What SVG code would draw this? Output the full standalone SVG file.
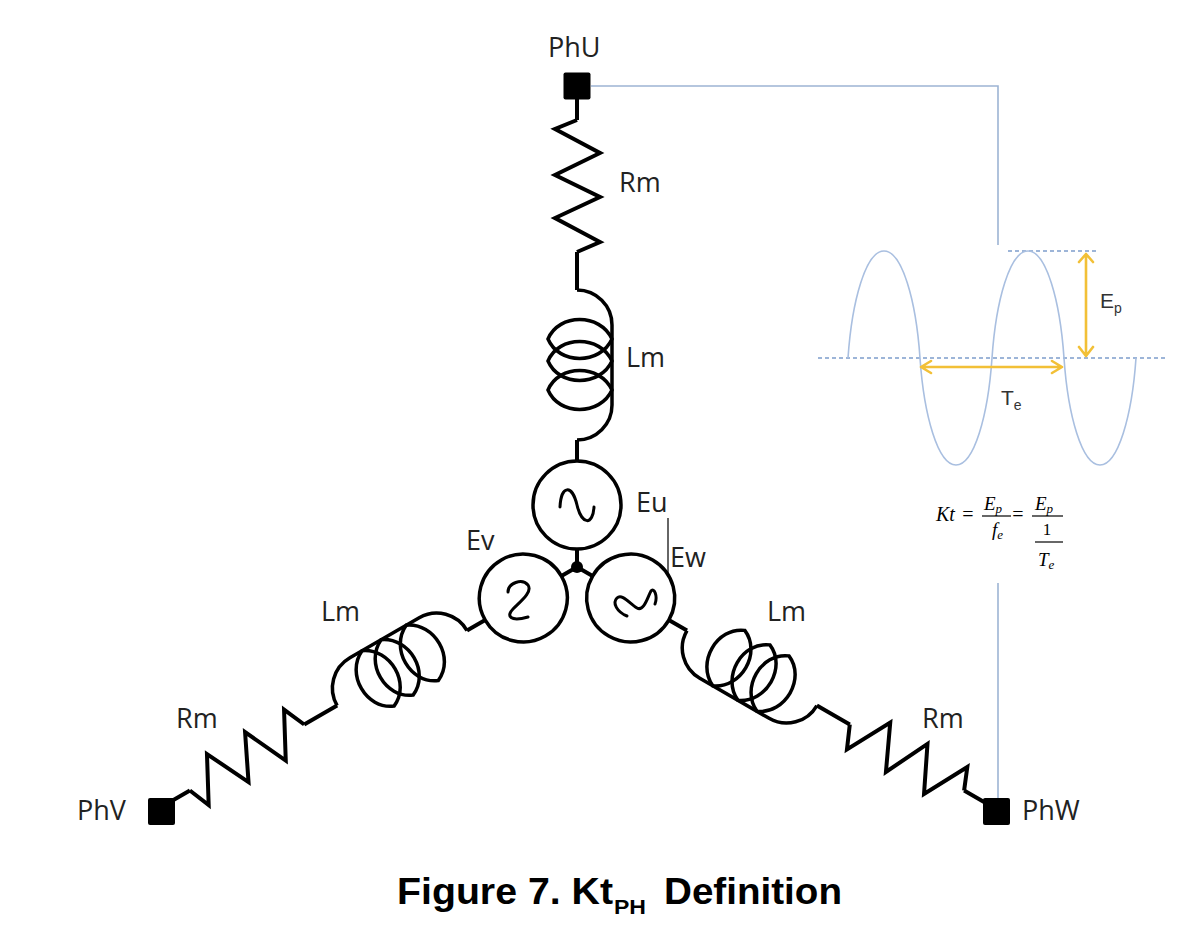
<svg xmlns="http://www.w3.org/2000/svg" xmlns:xlink="http://www.w3.org/1999/xlink" width="1200" height="938" viewBox="0 0 1200 938">
<style>
.w{fill:none;stroke:#000;stroke-width:4;stroke-linejoin:miter;stroke-linecap:butt}
.c{fill:none;stroke:#000;stroke-width:3.5}
.sym{fill:none;stroke:#000;stroke-width:3;stroke-linecap:round;stroke-linejoin:round}
.lbl{font-family:"Open Sans","Liberation Sans",sans-serif;font-size:27px;fill:#222}
.blue{fill:none;stroke:#9db4d4;stroke-width:1.6}
.dash{fill:none;stroke:#7d9dcc;stroke-width:1.3;stroke-dasharray:4 3}
.sine{fill:none;stroke:#a9bfe0;stroke-width:1.6}
.yel{fill:none;stroke:#f2c037;stroke-width:2.6;stroke-linecap:round;stroke-linejoin:round}
.wl{font-family:"Liberation Sans",Arial,sans-serif;fill:#333}
.m{font-family:"Liberation Serif","Times New Roman",serif;font-style:italic;fill:#000}
.mu{font-family:"Liberation Serif","Times New Roman",serif;fill:#000}
.title{font-family:"Liberation Sans",Arial,sans-serif;font-weight:bold;fill:#000}
.term{fill:#000}
</style>
<defs>
<path id="res" class="w" d="M0,-447 L-22,-438 L23,-414 L-22,-392 L23,-370 L-22,-349 L23,-325 L0,-315"/>
<g id="ind" class="c">
<path d="M0,-277 A35,35 0 0 1 35,-242 L35,-162 A35,35 0 0 1 0,-127"/>
<path d="M-29,-228 C-18,-254 23,-254 35,-228 C23,-202 -18,-202 -29,-228 Z"/>
<path d="M-29,-206 C-18,-232 23,-232 35,-206 C23,-180 -18,-180 -29,-206 Z"/>
<path d="M-29,-177 C-18,-203 23,-203 35,-177 C23,-151 -18,-151 -29,-177 Z"/>
</g>
<circle id="src" class="c" cx="0" cy="-62" r="44"/>
<path id="legwires" class="w" d="M0,-472 L0,-447 M0,-315 L0,-277 M0,-127 L0,-106 M0,-18 L0,0"/>
</defs>
<rect x="0" y="0" width="1200" height="938" fill="#fff"/>

<g id="connectors">
<use xlink:href="#legwires" transform="translate(577,567)"/>
<use xlink:href="#legwires" transform="translate(577,567) rotate(-120)"/>
<use xlink:href="#legwires" transform="translate(577,567) rotate(120)"/>
<path class="blue" d="M591,86 L998,86 L998,245"/>
<path class="blue" d="M998,583 L998,798"/>
<path fill="none" stroke="#333" stroke-width="1.5" d="M668,518 L668,575"/>
</g>

<g id="term-phu"><rect class="term" x="563.5" y="72.5" width="27" height="27" rx="2"/><text class="lbl" x="548" y="57">PhU</text></g>
<g id="term-phv"><rect class="term" x="148" y="798" width="27" height="27" rx="2"/><text class="lbl" x="77" y="820">PhV</text></g>
<g id="term-phw"><rect class="term" x="983" y="798" width="27" height="27" rx="2"/><text class="lbl" x="1022" y="820">PhW</text></g>

<g id="rm-u"><use xlink:href="#res" transform="translate(577,567)"/><text class="lbl" x="619" y="192">Rm</text></g>
<g id="rm-v"><use xlink:href="#res" transform="translate(577,567) rotate(-120)"/><text class="lbl" x="176" y="728">Rm</text></g>
<g id="rm-w"><use xlink:href="#res" transform="translate(577,567) rotate(120)"/><text class="lbl" x="922" y="728">Rm</text></g>

<g id="lm-u"><use xlink:href="#ind" transform="translate(577,567)"/><text class="lbl" x="626" y="367">Lm</text></g>
<g id="lm-v"><use xlink:href="#ind" transform="translate(577,567) rotate(-120)"/><text class="lbl" x="321" y="621">Lm</text></g>
<g id="lm-w"><use xlink:href="#ind" transform="translate(577,567) rotate(120)"/><text class="lbl" x="767" y="621">Lm</text></g>

<g id="src-eu"><use xlink:href="#src" transform="translate(577,567)"/>
<path class="sym" d="M560,507 C561,485 572,484 577,505 C582,526 593,525 594,507"/>
<text class="lbl" x="636" y="512">Eu</text></g>
<g id="src-ev"><use xlink:href="#src" transform="translate(577,567) rotate(-120)"/>
<path class="sym" d="M508,592 C508,583 522,578 528,585 C533,592 520,602 513,609 C506,616 510,622 528,617"/>
<text class="lbl" x="466" y="550">Ev</text></g>
<g id="src-ew"><use xlink:href="#src" transform="translate(577,567) rotate(120)"/>
<path class="sym" d="M627,616 C617,612 612,603 617,598 C622,593 630,604 637,608 C644,612 648,596 651,591 C654,587 658,596 655,604"/>
<text class="lbl" x="670" y="567">Ew</text></g>

<g id="neutral"><circle cx="577" cy="567" r="6" fill="#000"/></g>

<g id="waveform">
<path class="dash" d="M818,358 L1165,358"/>
<path class="dash" d="M1008,251 L1098,251"/>
<path class="sine" d="M848,358 C852,300 866,251 884,251 C902,251 916,300 920,358 C924,416 938,465 956,465 C974,465 988,416 992,358 C996,300 1010,251 1028,251 C1046,251 1060,300 1064,358 C1068,416 1082,465 1100,465 C1118,465 1132,416 1136,358"/>
<path class="yel" d="M1086,254 L1086,356 M1079,262 L1086,254 L1093,262 M1079,347 L1086,356 L1093,347"/>
<path class="yel" d="M921,367 L1062,367 M931,361 L921,367 L931,373 M1052,361 L1062,367 L1052,373"/>
<text class="wl" x="1100" y="308" font-size="21">E<tspan font-size="14" dy="5">p</tspan></text>
<text class="wl" x="1001" y="405" font-size="21">T<tspan font-size="14" dy="5">e</tspan></text>
</g>

<g id="formula">
<text class="m" x="936" y="521" font-size="20">Kt</text>
<text class="mu" x="968" y="521" font-size="20" text-anchor="middle">=</text>
<text class="m" x="984" y="510" font-size="19">E<tspan font-size="13" dy="3">p</tspan></text>
<path stroke="#000" stroke-width="1.2" d="M982,516 L1011,516"/>
<text class="m" x="992" y="536" font-size="19">f<tspan font-size="13" dy="3">e</tspan></text>
<text class="mu" x="1018" y="521" font-size="20" text-anchor="middle">=</text>
<text class="m" x="1035" y="510" font-size="19">E<tspan font-size="13" dy="3">p</tspan></text>
<path stroke="#000" stroke-width="1.2" d="M1032,516 L1063,516"/>
<text class="mu" x="1047" y="535" font-size="17" text-anchor="middle">1</text>
<path stroke="#000" stroke-width="1.2" d="M1035,542 L1063,542"/>
<text class="m" x="1038" y="566" font-size="19">T<tspan font-size="13" dy="3">e</tspan></text>
</g>

<g id="title">
<text class="title" x="397" y="904" font-size="37" textLength="216" lengthAdjust="spacingAndGlyphs">Figure 7. Kt</text>
<text class="title" x="614" y="914" font-size="21" textLength="32" lengthAdjust="spacingAndGlyphs">PH</text>
<text class="title" x="664" y="904" font-size="37" textLength="178" lengthAdjust="spacingAndGlyphs">Definition</text>
</g>
</svg>
